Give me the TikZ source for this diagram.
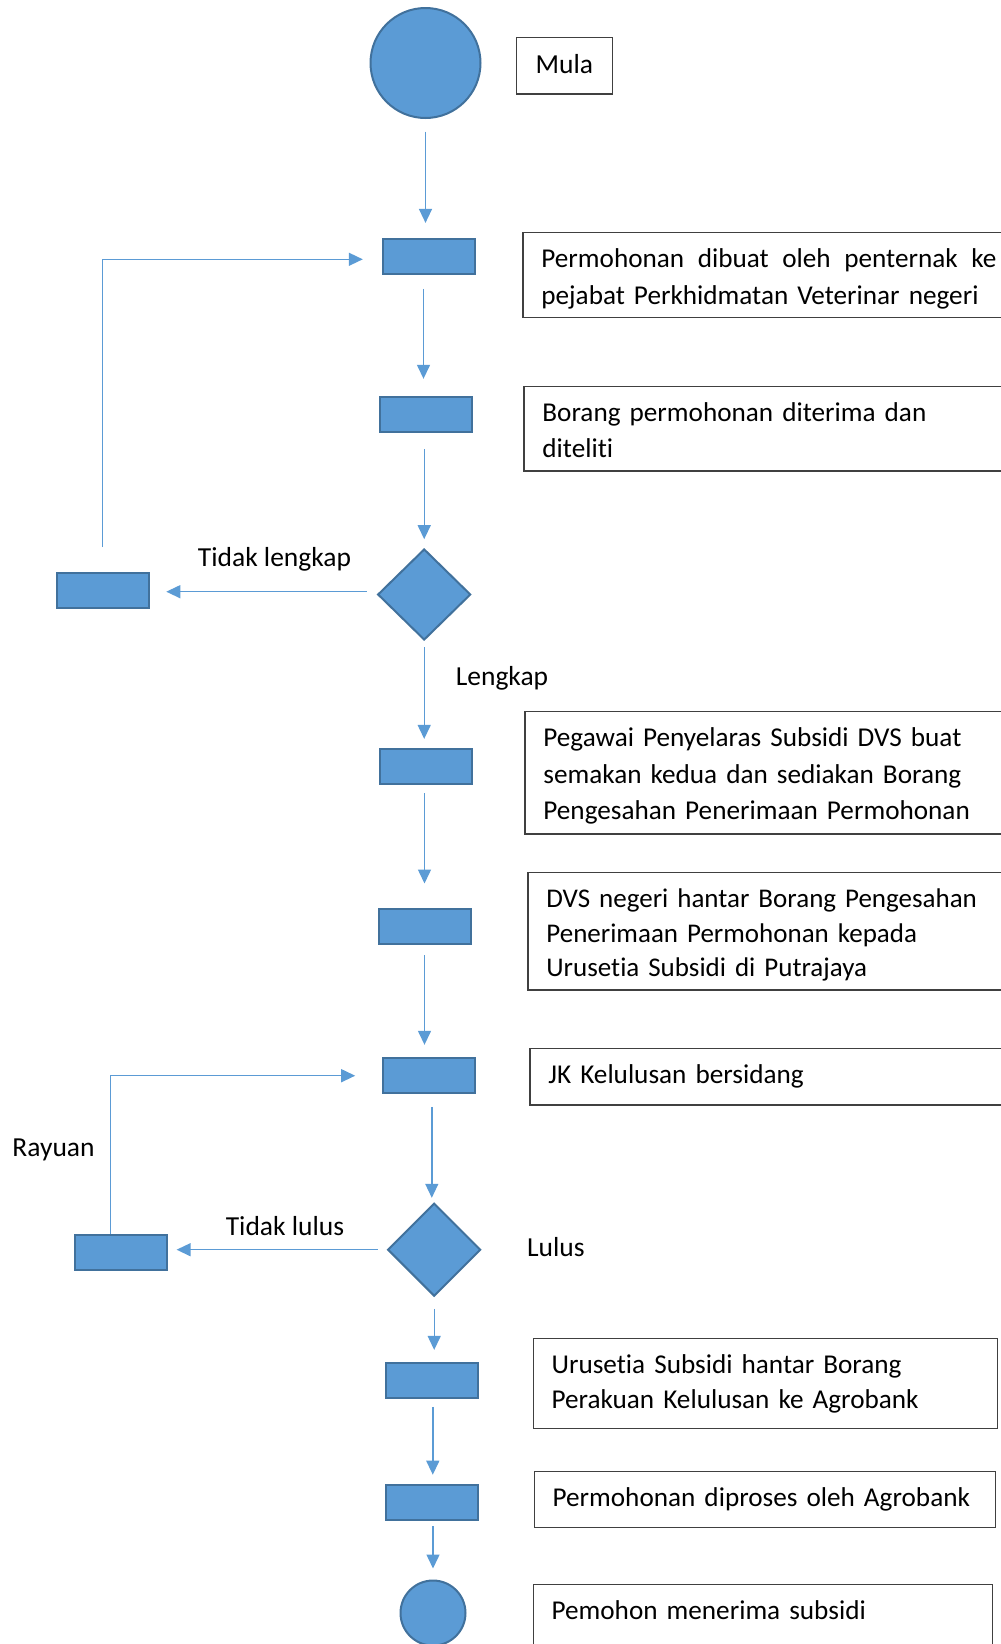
\documentclass[tikz,border=0pt]{standalone}
\usepackage{fontspec}
\setmainfont{Carlito}[RawFeature=-liga]
\usetikzlibrary{shapes.geometric,arrows.meta}
\definecolor{shapefill}{HTML}{5B9BD5}
\definecolor{shapeedge}{HTML}{41719C}
\definecolor{boxedge}{HTML}{404040}
\begin{document}
\begin{tikzpicture}[x=1pt,y=-1pt,
  shp/.style={fill=shapefill,draw=shapeedge,line width=2pt,inner sep=0pt},
  proc/.style={shp,rectangle,minimum width=92pt,minimum height=35pt},
  dec/.style={shp,diamond,minimum width=93pt,minimum height=91pt},
  term/.style={shp,circle},
  lbl/.style={font=\fontsize{27.5}{33}\selectfont,anchor=base,inner sep=0pt},
  txtbox/.style={draw=boxedge,line width=1.2pt,anchor=north west,align=left,inner xsep=18.5pt,inner ysep=0pt},
  flow/.style={draw=shapefill,line width=1.4pt,-{Triangle[length=14pt,width=13pt]}}
]
\useasboundingbox (0,0) rectangle (1001,1644);
\clip (0,0) rectangle (1001,1644);

% blue flow shapes
\node[term,minimum size=110pt] (start) at (425.5,63) {};
\node[proc] (r1) at (428.8,256.7) {};
\node[proc] (r2) at (425.5,414.9) {};
\node[dec] (d1) at (424.2,594.5) {};
\node[proc] (rl1) at (103.3,590) {};
\node[proc] (r3) at (425.5,766.7) {};
\node[proc] (r4) at (424.5,926) {};
\node[proc] (r5) at (428.8,1075.7) {};
\node[dec,minimum height=93pt] (d2) at (434.2,1249.7) {};
\node[proc] (rl2) at (121.2,1252.5) {};
\node[proc] (r6) at (431.8,1380) {};
\node[proc] (r7) at (431.8,1502.6) {};
\node[term,minimum size=65pt] (end) at (433,1613) {};

% text boxes
\node[draw=boxedge,line width=1.2pt,anchor=north west,inner sep=0pt,minimum width=96.3pt,
  font=\fontsize{27.5}{33}\selectfont] (mula) at (515.7,36.7)
  {\rule{0pt}{36.6pt}Mula\rule[-20pt]{0pt}{20pt}};
\node[txtbox,text width=455.7pt,font=\fontsize{27.2}{36.7}\selectfont] (t1) at (522.3,231.7)
  {\rule{0pt}{35.2pt}\makebox[455pt][l]{Permohonan\hfill dibuat\hfill oleh\hfill penternak\hfill ke}\\
   pejabat Perkhidmatan Veterinar negeri\rule[-13.1pt]{0pt}{13.1pt}};
\node[txtbox,text width=454.7pt,font=\fontsize{27.2}{35.6}\selectfont] (t2) at (523.3,385.7)
  {\rule{0pt}{35.2pt}Borang permohonan diterima dan\\
   diteliti\rule[-13.8pt]{0pt}{13.8pt}};
\node[txtbox,text width=453.7pt,font=\fontsize{27.2}{36.6}\selectfont] (t3) at (524.3,710.7)
  {\rule{0pt}{35.2pt}Pegawai Penyelaras Subsidi DVS buat\\
   semakan kedua dan sediakan Borang\\
   Pengesahan Penerimaan Permohonan\rule[-14.2pt]{0pt}{14.2pt}};
\node[txtbox,text width=450.7pt,font=\fontsize{27}{34.5}\selectfont] (t4) at (527.3,871.7)
  {\rule{0pt}{35.2pt}DVS negeri hantar Borang Pengesahan\\
   Penerimaan Permohonan kepada\\
   Urusetia Subsidi di Putrajaya\rule[-13.4pt]{0pt}{13.4pt}};
\node[txtbox,text width=448.7pt,font=\fontsize{27.2}{34.5}\selectfont] (t5) at (529.3,1047.7)
  {\rule{0pt}{35.2pt}JK Kelulusan bersidang\rule[-21.4pt]{0pt}{21.4pt}};
\node[txtbox,text width=427.3pt,font=\fontsize{27.2}{34.6}\selectfont] (t6) at (532.5,1337.8)
  {\rule{0pt}{35.2pt}Urusetia Subsidi hantar Borang\\
   Perakuan Kelulusan ke Agrobank\rule[-20.4pt]{0pt}{20.4pt}};
\node[txtbox,text width=424.2pt,font=\fontsize{27.2}{34.6}\selectfont] (t7) at (533.5,1470.6)
  {\rule{0pt}{35.2pt}Permohonan diproses oleh Agrobank\rule[-21.4pt]{0pt}{21.4pt}};
\node[txtbox,text width=422.1pt,font=\fontsize{27.2}{34.6}\selectfont] (t8) at (532.5,1583.8)
  {\rule{0pt}{35.2pt}Pemohon menerima subsidi\rule[-60pt]{0pt}{60pt}};

% labels
\node[lbl] (ltl) at (274.5,566) {Tidak lengkap};
\node[lbl] (ll) at (502,685) {Lengkap};
\node[lbl] (lr) at (53.5,1156.7) {Rayuan};
\node[lbl] (ltu) at (285,1235) {Tidak lulus};
\node[lbl] (llu) at (555.8,1256) {Lulus};

% connectors
\draw[flow,shorten <=12.7pt,shorten >=15.3pt] (start.south) -- (start.south |- r1.north);
\draw[flow,shorten <=13.7pt,shorten >=17.6pt] ([xshift=-2pt]r2.north |- r1.south) -- ([xshift=-2pt]r2.north);
\draw[flow,shorten <=15.8pt,shorten >=8.8pt] (d1.north |- r2.south) -- (d1.north);
\draw[flow,shorten <=6.2pt,shorten >=9.3pt] (d1.south) -- (d1.south |- r3.north);
\draw[flow,shorten <=8pt,shorten >=24pt] (r4.north |- r3.south) -- (r4.north);
\draw[flow,shorten <=10.7pt,shorten >=12.4pt] (r4.south) -- (r4.south |- r5.north);
\draw[flow,shorten <=12.7pt,shorten >=4.4pt] ([xshift=3pt]r5.south) -- ([xshift=3pt]r5.south |- d2.north);
\draw[flow,shorten <=11.6pt,shorten >=11.6pt] (d2.south) -- (d2.south |- r6.north);
\draw[flow,shorten <=8.4pt,shorten >=9.4pt] ([xshift=1pt]r6.south) -- ([xshift=1pt]r6.south |- r7.north);
\draw[flow,shorten <=5pt,shorten >=11pt] (end.north |- r7.south) -- (end.north);
\draw[flow,shorten <=10pt,shorten >=16pt] ([yshift=2.8pt]d1.west) -- ([yshift=2.8pt]d1.west -| rl1.east);
\draw[flow,shorten <=9pt,shorten >=8.4pt] (d2.west) -- (d2.west -| rl2.east);
\draw[flow,shorten <=24.3pt,shorten >=19pt] ([xshift=-1pt]rl1.north) |- ([yshift=-2.6pt]r1.west);
\draw[flow,shorten >=26.6pt] ([xshift=-11pt]rl2.north) |- (r5.west);
\end{tikzpicture}
\end{document}
